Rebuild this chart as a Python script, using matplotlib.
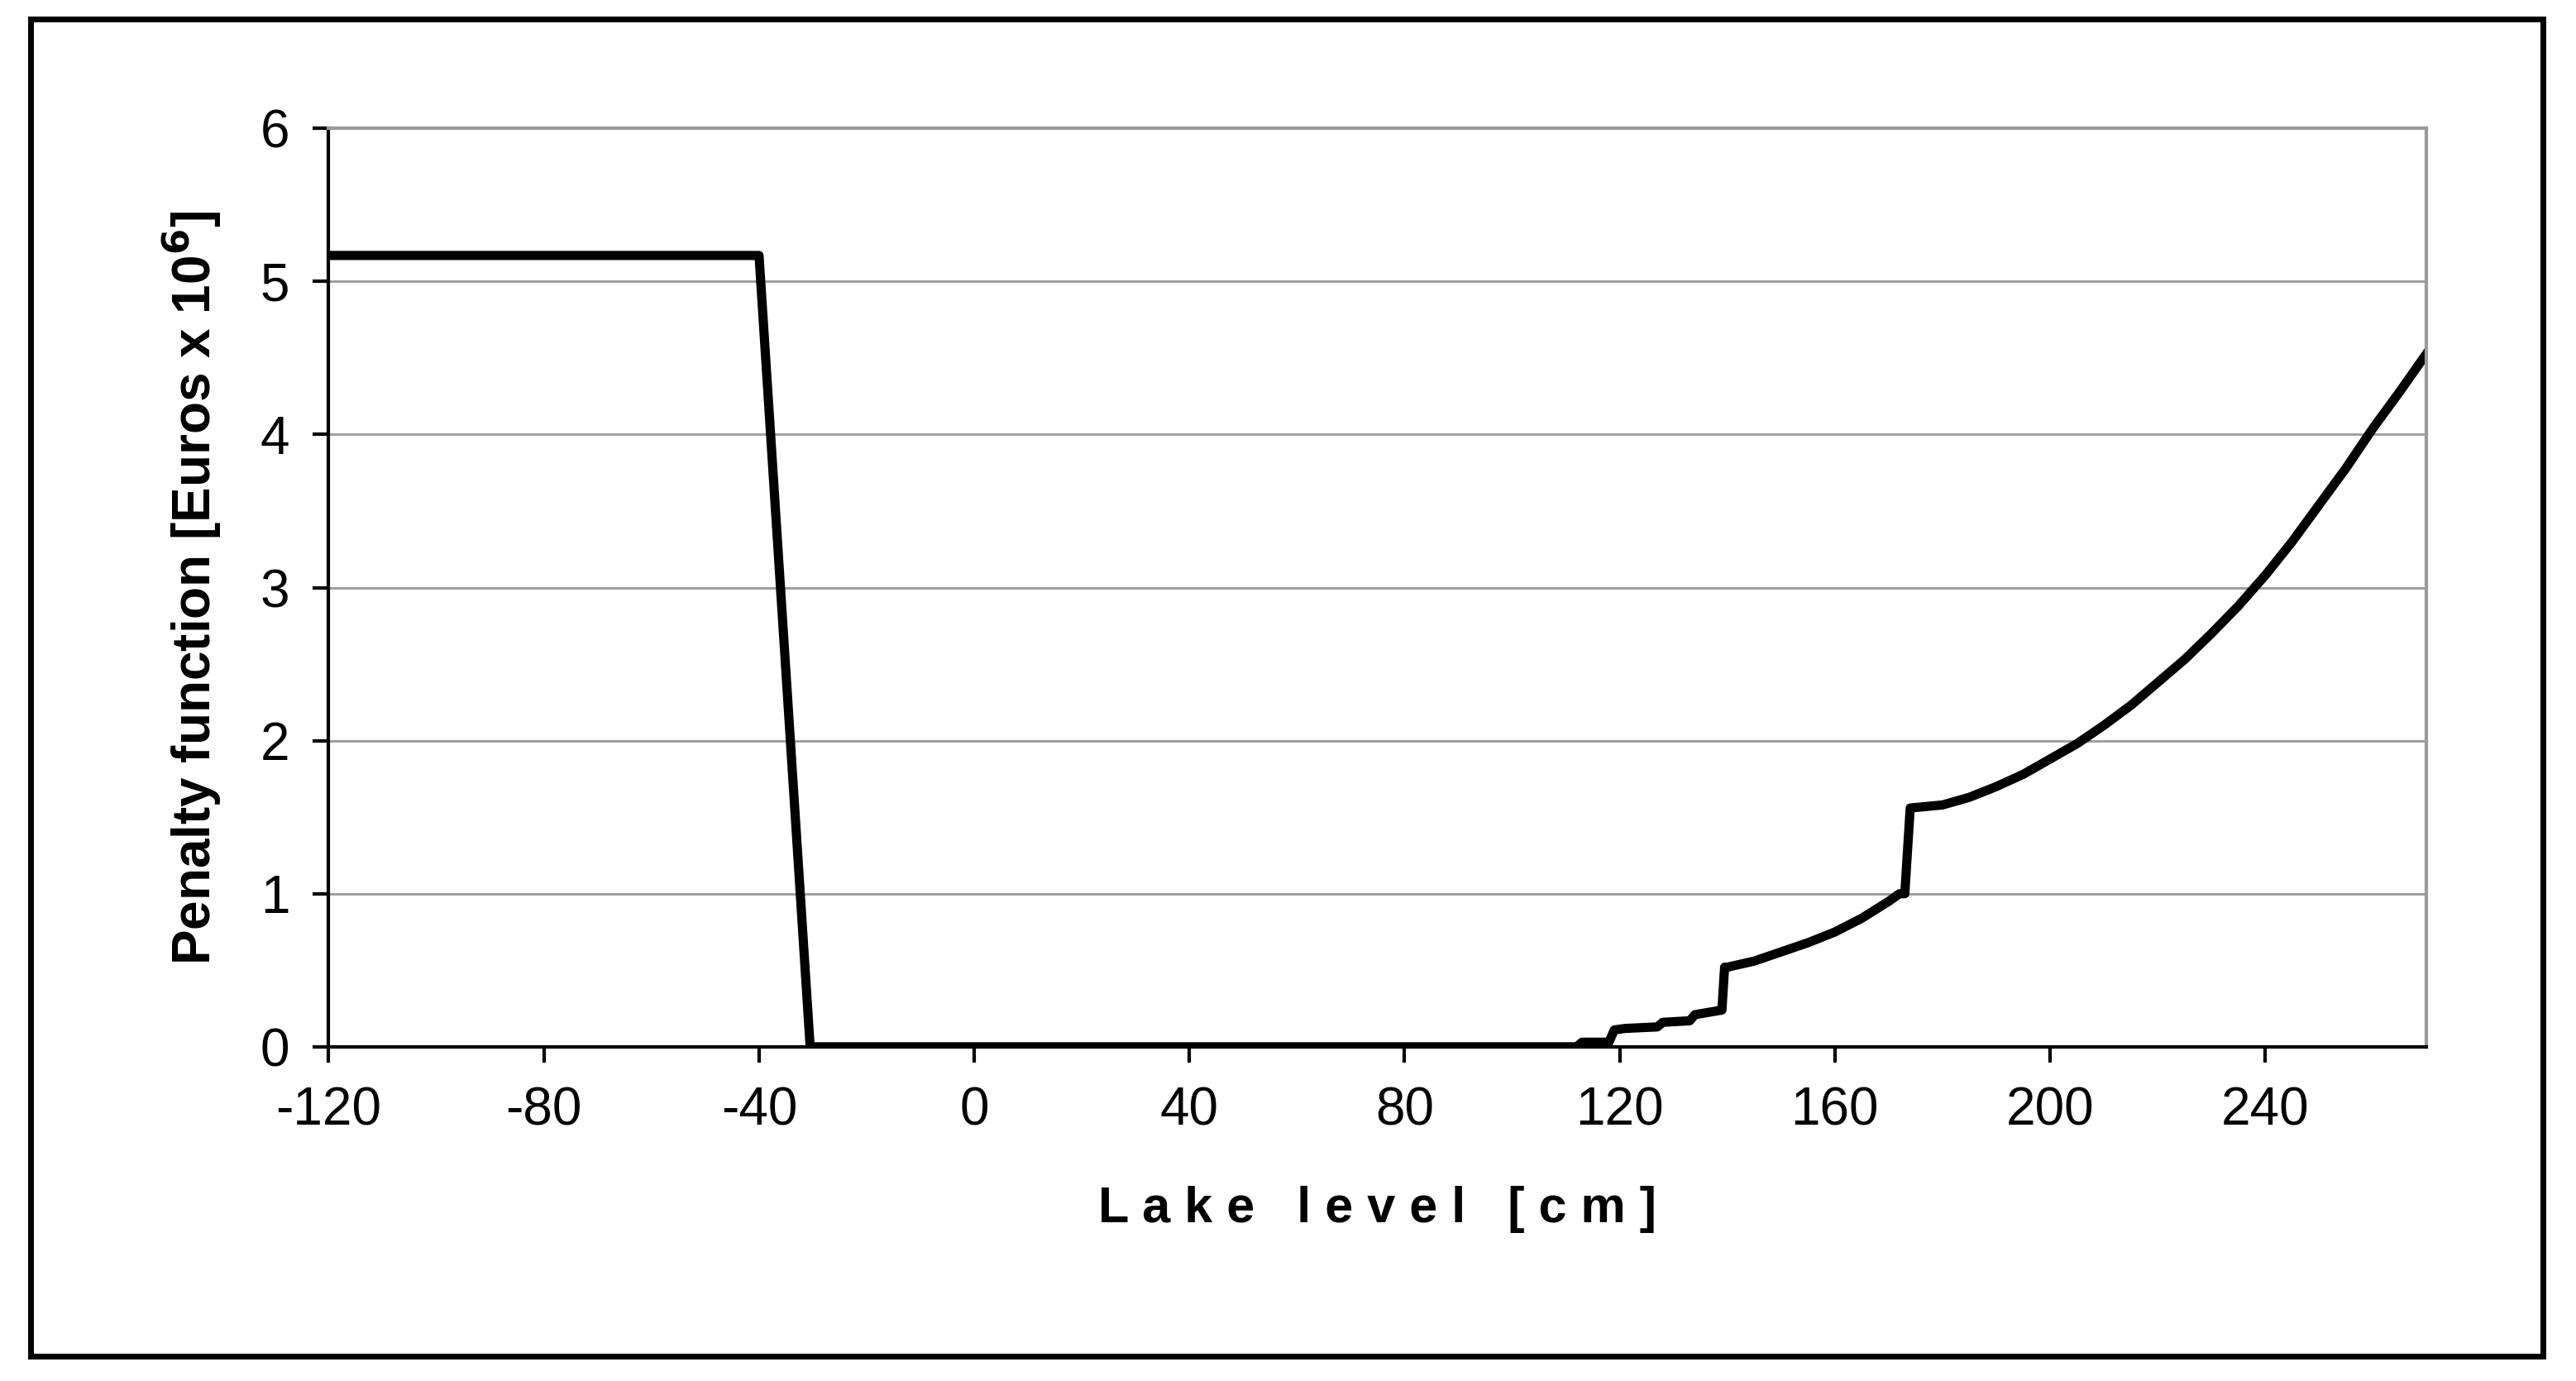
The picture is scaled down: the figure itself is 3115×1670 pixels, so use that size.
import matplotlib
matplotlib.use("Agg")
import matplotlib.pyplot as plt

plt.rcParams['font.family'] = ['Liberation Sans', 'DejaVu Sans']
plt.rcParams['axes.unicode_minus'] = False

# Lake level [cm] and penalty [Euros x 10^6]
level = [-120, -40, -30.5, 112, 113, 118, 119, 121, 127, 128, 133, 134, 139, 139.5,
         140, 145, 150, 155, 160, 165, 170, 172, 173, 174, 180, 185, 190, 195, 200,
         205, 210, 215, 220, 225, 230, 235, 240, 245, 250, 255, 260, 265, 270]
penalty = [5.17, 5.17, 0.0, 0.0, 0.03, 0.03, 0.11, 0.12, 0.13, 0.16, 0.17, 0.21, 0.24, 0.52,
           0.52, 0.56, 0.62, 0.68, 0.75, 0.84, 0.95, 1.0, 1.0, 1.56, 1.58, 1.63, 1.70, 1.78, 1.88,
           1.98, 2.10, 2.23, 2.38, 2.53, 2.70, 2.88, 3.08, 3.30, 3.54, 3.78, 4.04, 4.28, 4.53]

xticks = list(range(-120, 241, 40))
yticks = list(range(0, 7))

fig = plt.figure(figsize=(15.575, 8.35), dpi=200)
fig.patches.append(plt.Rectangle((0.012, 0.018), 0.975, 0.968, transform=fig.transFigure,
                                 fill=False, edgecolor='black', linewidth=2.5))
ax = fig.add_axes([0.1276, 0.242, 0.8144, 0.665])

ax.plot(level, penalty, color='black', linewidth=4, solid_joinstyle='round')
ax.set_xlim(-120, 270)
ax.set_ylim(0, 6)
ax.set_xticks(xticks)
ax.set_yticks(yticks)
ax.yaxis.grid(True, color='#999999', linewidth=1)
ax.set_axisbelow(True)
for s in ax.spines.values():
    s.set_color('#999999')
    s.set_linewidth(1.5)
ax.spines['left'].set_color('black')
ax.spines['bottom'].set_color('black')
ax.tick_params(axis='both', labelsize=23, length=7, width=1.5, direction='out', pad=10)

ax.set_xlabel('L a k e   l e v e l   [ c m ]', fontsize=22, fontweight='bold', labelpad=22)
ax.set_ylabel(r'Penalty function [Euros x 10$^{\mathbf{6}}$]', fontsize=23, fontweight='bold', labelpad=16)

fig.savefig('out.png', dpi=200, facecolor='white')
